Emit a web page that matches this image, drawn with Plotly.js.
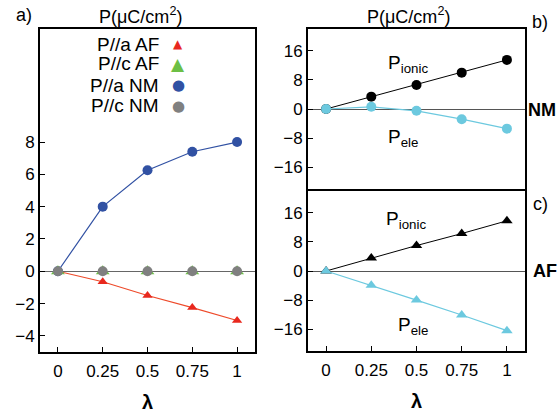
<!DOCTYPE html>
<html><head><meta charset="utf-8">
<script src="https://cdn.plot.ly/plotly-3.0.1.min.js"></script>
<style>body{margin:0;padding:0;background:#fff}#chart{width:559px;height:417px}</style>
</head><body><div id="chart"></div>
<script>
const lambda = [0, 0.25, 0.5, 0.75, 1];
const paAF = [0, -0.65, -1.5, -2.25, -3.05];
const pcAF = [0, 0, 0, 0, 0];
const paNM = [0, 4.0, 6.25, 7.4, 8.0];
const pcNM = [0, 0, 0, 0, 0];
const nmIonic = [0, 3.4, 6.6, 10.0, 13.5];
const nmEle = [0, 0.6, -0.5, -2.8, -5.4];
const afIonic = [0, 3.6, 7.0, 10.3, 13.8];
const afEle = [0, -3.9, -8.0, -12.1, -16.4];
const xTickVals = [0, 0.25, 0.5, 0.75, 1];
const xTickText = ['0', '0.25', '0.5', '0.75', '1'];
const yTicksA = [-4, -2, 0, 2, 4, 6, 8];
const yTicksBC = [-16, -8, 0, 8, 16];
const legendNames = ['P//a AF', 'P//c AF', 'P//a NM', 'P//c NM'];

const W = 559, H = 417;
const px = x => x / W, py = y => 1 - y / H;
const RED = '#e8281e', GREEN = '#6cbf45', BLUE = '#3151a3', GRAY = '#808080', CYAN = '#6cc9df';
const FONT = 'Liberation Sans, Arial, Helvetica, sans-serif';

const traces = [
  {x: lambda, y: paNM, xaxis: 'x', yaxis: 'y', mode: 'lines+markers', line: {color: BLUE, width: 1.2}, marker: {color: BLUE, size: 10, symbol: 'circle'}},
  {x: lambda, y: paAF, xaxis: 'x', yaxis: 'y', mode: 'lines+markers', line: {color: '#ee4a2a', width: 1.2}, marker: {color: RED, size: 9, symbol: 'triangle-up'}},
  {x: lambda, y: pcAF, xaxis: 'x', yaxis: 'y', mode: 'markers', marker: {color: GREEN, size: 12, symbol: 'triangle-up'}},
  {x: lambda, y: pcNM, xaxis: 'x', yaxis: 'y', mode: 'markers', marker: {color: GRAY, size: 10, symbol: 'circle'}},
  {x: lambda, y: nmIonic, xaxis: 'x2', yaxis: 'y2', mode: 'lines+markers', line: {color: '#000', width: 1}, marker: {color: '#000', size: 10, symbol: 'circle'}},
  {x: lambda, y: nmEle, xaxis: 'x2', yaxis: 'y2', mode: 'lines+markers', line: {color: CYAN, width: 1.2}, marker: {color: CYAN, size: 10, symbol: 'circle'}},
  {x: lambda, y: afIonic, xaxis: 'x3', yaxis: 'y3', mode: 'lines+markers', line: {color: '#000', width: 1}, marker: {color: '#000', size: 10, symbol: 'triangle-up'}},
  {x: lambda, y: afEle, xaxis: 'x3', yaxis: 'y3', mode: 'lines+markers', line: {color: CYAN, width: 1.2}, marker: {color: CYAN, size: 10, symbol: 'triangle-up'}}
];

const axBase = {
  showline: true, linecolor: '#000', linewidth: 2, mirror: true,
  ticks: 'inside', ticklen: 5, tickwidth: 1, tickcolor: '#000',
  showgrid: false, zeroline: false,
  tickfont: {family: FONT, size: 17, color: '#000'}
};
const xBase = Object.assign({}, axBase, {range: [-0.1, 1.1], tickvals: xTickVals, ticktext: xTickText, ticklabelstandoff: 3,
  title: {text: '<b>λ</b>', font: {family: FONT, size: 20, color: '#000'}, standoff: 15}});

const layout = {
  width: W, height: H, margin: {l: 0, r: 0, t: 0, b: 0},
  paper_bgcolor: '#fff', plot_bgcolor: '#fff', showlegend: false,
  xaxis: Object.assign({}, xBase, {domain: [px(40), px(255)], anchor: 'y'}),
  yaxis: Object.assign({}, axBase, {domain: [py(352), py(29)], range: [-5, 15], tickvals: yTicksA, anchor: 'x',
    zeroline: true, zerolinecolor: '#666', zerolinewidth: 1}),
  xaxis2: Object.assign({}, axBase, {domain: [px(308), px(525)], anchor: 'y2', range: [-0.1, 1.1], showticklabels: false, ticks: ''}),
  yaxis2: Object.assign({}, axBase, {domain: [py(189), py(29)], range: [-22, 22], tickvals: yTicksBC, anchor: 'x2',
    zeroline: true, zerolinecolor: '#555', zerolinewidth: 1}),
  xaxis3: Object.assign({}, xBase, {domain: [px(308), px(525)], anchor: 'y3'}),
  yaxis3: Object.assign({}, axBase, {domain: [py(351), py(191)], range: [-22, 22], tickvals: yTicksBC, anchor: 'x3',
    zeroline: true, zerolinecolor: '#555', zerolinewidth: 1}),
  annotations: []
};
const ann = (text, x, y, opts) => layout.annotations.push(Object.assign({
  text, x: px(x), y: py(y), xref: 'paper', yref: 'paper', showarrow: false,
  font: {family: FONT, size: 18, color: '#000'}, xanchor: 'center', yanchor: 'middle'}, opts || {}));

ann('a)', 24, 15);
ann('b)', 540, 22);
ann('c)', 540, 204);
ann('P(μC/cm<sup>2</sup>)', 140, 15);
ann('P(μC/cm<sup>2</sup>)', 408, 15);
ann('<b>NM</b>', 542, 110);
ann('<b>AF</b>', 545, 271);
ann('P<sub>ionic</sub>', 408, 64, {font: {family: FONT, size: 19, color: '#000'}});
ann('P<sub>ele</sub>', 403, 138, {font: {family: FONT, size: 19, color: '#000'}});
ann('P<sub>ionic</sub>', 406, 220, {font: {family: FONT, size: 19, color: '#000'}});
ann('P<sub>ele</sub>', 413, 326, {font: {family: FONT, size: 19, color: '#000'}});

const legSym = ['▲', '▲', '●', '●'];
const legCol = [RED, GREEN, BLUE, GRAY];
const legSize = [12, 17, 15, 15];
const legY = [44, 64, 85, 106];
legendNames.forEach((n, i) => {
  ann(n, 161, legY[i], {xanchor: 'right', font: {family: FONT, size: 19, color: '#000'}});
  ann(legSym[i], 178, legY[i], {font: {family: 'DejaVu Sans', size: legSize[i], color: legCol[i]}});
});

Plotly.newPlot('chart', traces, layout, {staticPlot: true});
</script></body></html>
